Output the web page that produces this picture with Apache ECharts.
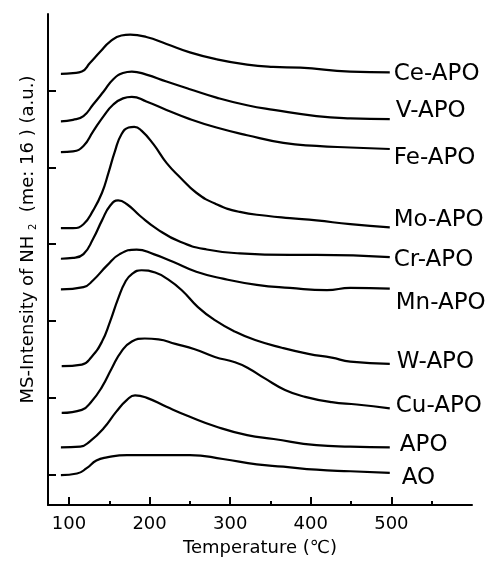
<!DOCTYPE html>
<html>
<head>
<meta charset="utf-8">
<style>
  html, body { margin: 0; padding: 0; background: #fff; }
  #chart { width: 487px; height: 562px; }
</style>
</head>
<body>
<div id="chart"></div>
<script src="https://cdn.jsdelivr.net/npm/echarts@6/dist/echarts.min.js"></script>
<script type="text/javascript">
// TPD curves, [temperature (°C), intensity (a.u., stacked offsets)]
var ceApo = [[90,6.22],[105,6.23],[116,6.25],[126,6.36],[139,6.51],[151,6.64],[165,6.72],[176,6.73],[196,6.70],[221,6.61],[250,6.50],[283,6.41],[321,6.34],[353,6.31],[387,6.30],[449,6.25],[498,6.24]];
var vApo = [[90,5.60],[105,5.62],[118,5.67],[130,5.82],[143,5.99],[155,6.15],[167,6.23],[178,6.25],[196,6.21],[221,6.12],[250,6.02],[283,5.91],[321,5.81],[354,5.75],[407,5.67],[449,5.64],[498,5.63]];
var feApo = [[90,5.20],[105,5.21],[118,5.28],[130,5.47],[143,5.67],[155,5.82],[167,5.90],[178,5.92],[196,5.86],[221,5.75],[250,5.63],[283,5.52],[321,5.42],[366,5.32],[407,5.28],[449,5.26],[498,5.24]];
var moApo = [[90,4.21],[105,4.21],[118,4.26],[130,4.44],[141,4.67],[149,4.93],[157,5.21],[165,5.43],[174,5.52],[181,5.53],[190,5.48],[205,5.30],[221,5.06],[238,4.87],[258,4.67],[283,4.52],[312,4.42],[345,4.37],[374,4.34],[407,4.31],[449,4.26],[498,4.22]];
var crApo = [[90,3.81],[105,3.82],[118,3.87],[130,4.07],[141,4.31],[151,4.50],[161,4.57],[172,4.52],[188,4.37],[209,4.20],[238,4.03],[271,3.93],[312,3.88],[374,3.86],[407,3.86],[498,3.83]];
var mnApo = [[90,3.41],[118,3.44],[130,3.53],[147,3.72],[163,3.87],[184,3.93],[205,3.87],[229,3.77],[258,3.64],[291,3.55],[333,3.47],[374,3.43],[420,3.40],[449,3.43],[498,3.42]];
var wApo = [[91,2.41],[116,2.43],[128,2.53],[141,2.73],[151,2.99],[161,3.29],[170,3.51],[178,3.61],[190,3.66],[207,3.63],[223,3.54],[240,3.40],[260,3.18],[281,3.01],[306,2.86],[331,2.75],[364,2.65],[397,2.57],[426,2.52],[449,2.47],[498,2.44]];
var cuApo = [[91,1.80],[116,1.84],[128,1.95],[141,2.14],[153,2.38],[165,2.60],[178,2.73],[194,2.77],[211,2.76],[232,2.70],[256,2.63],[281,2.53],[306,2.46],[323,2.38],[343,2.25],[368,2.10],[393,2.01],[426,1.94],[457,1.91],[498,1.86]];
var apo = [[90,1.35],[114,1.36],[126,1.43],[143,1.60],[159,1.82],[172,1.97],[182,2.03],[196,2.00],[221,1.88],[250,1.75],[283,1.62],[321,1.51],[354,1.46],[407,1.38],[449,1.36],[498,1.35]];
var ao = [[90,0.99],[110,1.01],[122,1.08],[134,1.18],[147,1.22],[172,1.25],[209,1.25],[250,1.25],[291,1.20],[333,1.13],[366,1.10],[407,1.06],[449,1.04],[498,1.02]];

var names = ['Ce-APO', 'V-APO', 'Fe-APO', 'Mo-APO', 'Cr-APO', 'Mn-APO', 'W-APO', 'Cu-APO', 'APO', 'AO'];
var curves = [ceApo, vApo, feApo, moApo, crApo, mnApo, wApo, cuApo, apo, ao];
// label nudges [dx, dy] from the line end
var labelOffsets = [[4,2],[6,-8],[4,9],[4,-7],[4,3],[6,14],[7,-2],[6,-2],[10,-2],[12,5]];

var xMajor = [100, 200, 300, 400, 500];
var xMinor = [150, 250, 350, 450, 550];
var yTicks = [1, 2, 3, 4, 5, 6];

var font = 'DejaVu Sans';
var myChart = echarts.init(document.getElementById('chart'));

var series = [];
for (var i = 0; i < curves.length; i++) {
    series.push({
        name: names[i],
        type: 'line',
        xAxisIndex: 0,
        data: curves[i],
        smooth: 0.5,
        showSymbol: false,
        symbol: 'none',
        lineStyle: { color: '#000', width: 2.2 },
        endLabel: {
            show: true,
            formatter: function (p) { return p.seriesName; },
            distance: 0,
            offset: labelOffsets[i],
            color: '#000',
            fontFamily: font,
            fontSize: 23
        }
    });
}

var option = {
    animation: false,
    grid: { left: 48, right: 15, top: 14, bottom: 55 },
    xAxis: [
        {
            type: 'value',
            min: 74,
            max: 600,
            name: 'Temperature (℃)',
            nameLocation: 'middle',
            nameGap: 34,
            nameTextStyle: { color: '#000', fontFamily: font, fontSize: 18 },
            axisLine: { lineStyle: { color: '#000', width: 2 } },
            axisTick: { inside: true, length: 8, customValues: xMajor, lineStyle: { color: '#000', width: 2 } },
            axisLabel: { customValues: xMajor, color: '#000', fontFamily: font, fontSize: 18, margin: 10 },
            splitLine: { show: false }
        },
        {
            type: 'value',
            min: 74,
            max: 600,
            position: 'bottom',
            axisLine: { show: false },
            axisTick: { inside: true, length: 4, customValues: xMinor, lineStyle: { color: '#000', width: 2 } },
            axisLabel: { show: false },
            splitLine: { show: false }
        }
    ],
    yAxis: {
        type: 'value',
        min: 0.6,
        max: 7.0,
        name: 'MS-Intensity of NH {sub|2}  (me: 16 ) (a.u.)',
        nameLocation: 'middle',
        nameGap: 10,
        nameTextStyle: {
            color: '#000', fontFamily: font, fontSize: 18,
            padding: [0, 0, 0, 40],
            rich: { sub: { fontSize: 10, fontFamily: font, color: '#000', verticalAlign: 'bottom', padding: [9, 0, 0, 0] } }
        },
        axisLine: { lineStyle: { color: '#000', width: 2 } },
        axisTick: { inside: true, length: 8, customValues: yTicks, lineStyle: { color: '#000', width: 2 } },
        axisLabel: { show: false },
        splitLine: { show: false }
    },
    series: series
};
myChart.setOption(option);
</script>
</body>
</html>
